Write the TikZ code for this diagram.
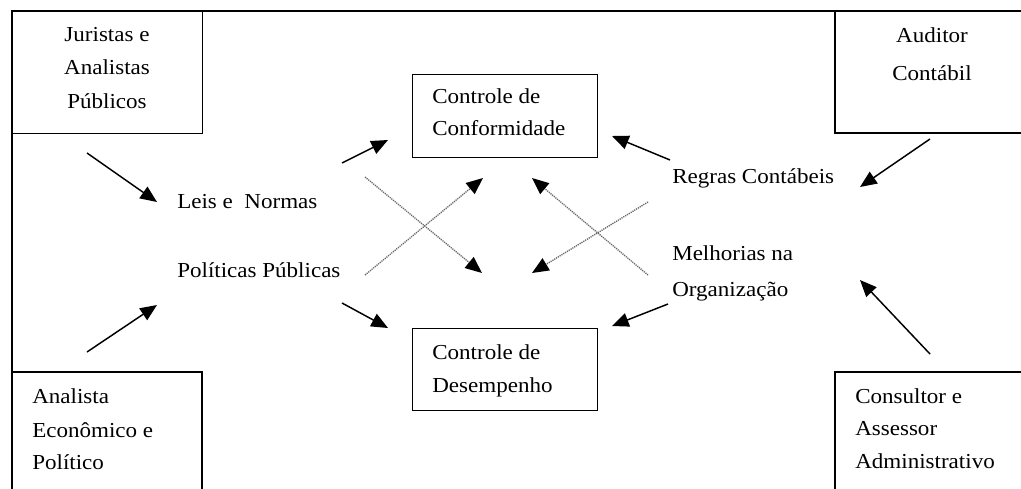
\documentclass[tikz,border=0pt]{standalone}
\usepackage{fontspec}
\setmainfont{Liberation Serif}[FakeStretch=1.08]
\usetikzlibrary{arrows.meta}
\begin{document}
\begin{tikzpicture}[x=0.75pt,y=-0.75pt,
  frame/.style={draw=black,line width=1.1pt},
  lbl/.style={anchor=base west,inner sep=0pt,font=\fontsize{16}{20}\selectfont},
  clbl/.style={anchor=base,inner sep=0pt,font=\fontsize{16}{20}\selectfont},
  flow/.style={draw=black,line width=1.1pt,-{Triangle[length=12.5pt,width=10.5pt]}},
  cross/.style={draw=black!60,line width=1pt,dash pattern=on 0.9pt off 0.7pt,-{Triangle[length=12.5pt,width=10.5pt,black]}}]
\useasboundingbox (0,0) rectangle (1021,489);
\clip (0,0) rectangle (1021,489);
\fill[white] (0,0) rectangle (1021,489);

% outer frame and corner boxes (running off the page edge)
\draw[frame] (12,11) rectangle (1040,510);
\node[frame,anchor=north west,minimum width=142.5pt,minimum height=91.5pt,inner sep=0pt] (jbox) at (12,11) {};
\draw[frame] (835,11) rectangle (1040,133);
\draw[frame] (12,372) rectangle (202,510);
\draw[frame] (835,372) rectangle (1040,510);

% central boxes
\node[frame,anchor=north west,minimum width=138.75pt,minimum height=62.25pt,inner sep=0pt] (conf) at (412,74) {};
\node[frame,anchor=north west,minimum width=138.75pt,minimum height=61.5pt,inner sep=0pt] (dese) at (412,328) {};

% texts of the corner boxes
\node[clbl] (j1) at (107,41) {Juristas e};
\node[clbl] (j2) at (107,74) {Analistas};
\node[clbl] (j3) at (107,108) {Públicos};
\node[clbl] (u1) at (932,42) {Auditor};
\node[clbl] (u2) at (932,80) {Contábil};
\node[lbl] (e1) at (32,403) {Analista};
\node[lbl] (e2) at (32,437) {Econômico e};
\node[lbl] (e3) at (32,469) {Político};
\node[lbl] (c1) at (855,403) {Consultor e};
\node[lbl] (c2) at (855,435) {Assessor};
\node[lbl] (c3) at (855,468) {Administrativo};

% texts of the central boxes
\node[lbl] (k1) at (432,103) {Controle de};
\node[lbl] (k2) at (432,135) {Conformidade};
\node[lbl] (d1) at (432,359) {Controle de};
\node[lbl] (d2) at (432,392) {Desempenho};

% middle labels
\node[lbl] (leis) at (177,208) {Leis e\ \ Normas};
\node[lbl] (pol) at (177,277) {Políticas Públicas};
\node[lbl] (reg) at (672,183) {Regras Contábeis};
\node[lbl] (mel1) at (672,260) {Melhorias na};
\node[lbl] (mel2) at (672,296) {Organização};

% arrow end points
\coordinate (a1s) at (87,153);  \coordinate (a1e) at (157,202);
\coordinate (a2s) at (87,352);  \coordinate (a2e) at (157,305);
\coordinate (a3s) at (342,163); \coordinate (a3e) at (388,140);
\coordinate (a4s) at (342,303); \coordinate (a4e) at (388,328);
\coordinate (a5s) at (930,139); \coordinate (a5e) at (860,187);
\coordinate (a6s) at (930,354); \coordinate (a6e) at (860,280);
\coordinate (a7s) at (670,160); \coordinate (a7e) at (612,136);
\coordinate (a8s) at (668,304); \coordinate (a8e) at (612,326);

\draw[flow] (a1s) -- (a1e);
\draw[flow] (a2s) -- (a2e);
\draw[flow] (a3s) -- (a3e);
\draw[flow] (a4s) -- (a4e);
\draw[flow] (a5s) -- (a5e);
\draw[flow] (a6s) -- (a6e);
\draw[flow] (a7s) -- (a7e);
\draw[flow] (a8s) -- (a8e);

% crossing influences
\coordinate (x1s) at (365,177); \coordinate (x1e) at (482,273);
\coordinate (x2s) at (365,275); \coordinate (x2e) at (483,178);
\coordinate (x3s) at (648,202); \coordinate (x3e) at (532,273);
\coordinate (x4s) at (648,275); \coordinate (x4e) at (532,178);
\draw[cross] (x1s) -- (x1e);
\draw[cross] (x2s) -- (x2e);
\draw[cross] (x3s) -- (x3e);
\draw[cross] (x4s) -- (x4e);
\end{tikzpicture}
\end{document}
